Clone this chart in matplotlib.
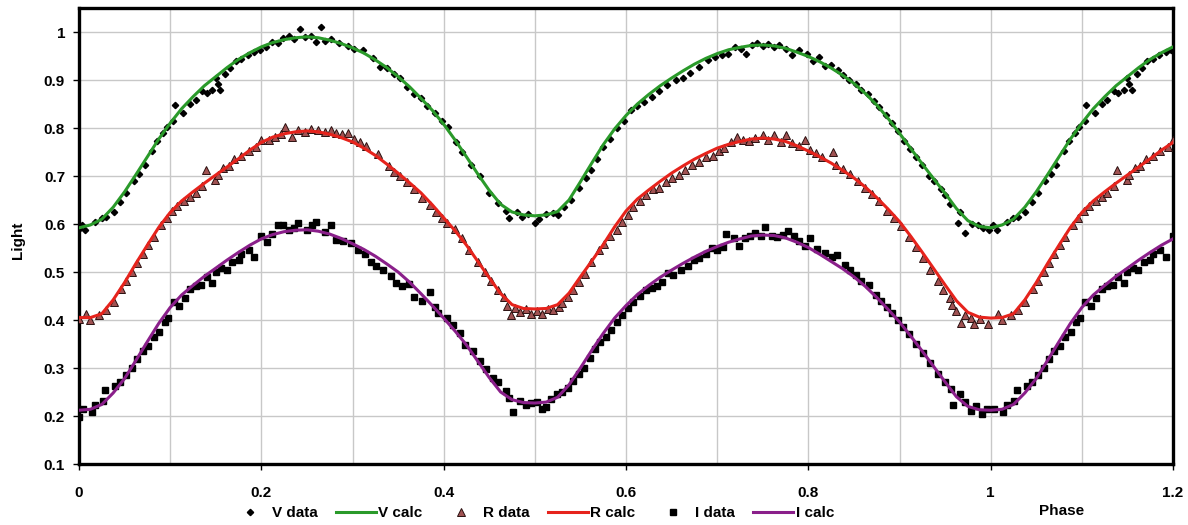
import matplotlib
matplotlib.use('Agg')
import matplotlib.pyplot as plt
from matplotlib.ticker import MultipleLocator
import numpy as np

plt.rcParams['font.family'] = ['Liberation Sans', 'DejaVu Sans']
plt.rcParams['font.weight'] = 'bold'

# model curves, phase 0..1 in steps of 0.0125 (repeated 1.0..1.2 like the original sheet)
CALC_PHASE = [i * 0.0125 for i in range(81)]
V_CALC = [0.592, 0.598, 0.610, 0.635, 0.667, 0.703, 0.740, 0.777, 0.810, 0.840,
          0.865, 0.888, 0.907, 0.926, 0.943, 0.957, 0.969, 0.978, 0.984, 0.988,
          0.990, 0.988, 0.983, 0.976, 0.967, 0.956, 0.942, 0.926, 0.907, 0.886,
          0.862, 0.837, 0.808, 0.775, 0.740, 0.704, 0.670, 0.641, 0.625, 0.619,
          0.617, 0.619, 0.626, 0.650, 0.688, 0.727, 0.765, 0.798, 0.826, 0.850,
          0.870, 0.888, 0.904, 0.919, 0.933, 0.945, 0.955, 0.963, 0.968, 0.972,
          0.973, 0.971, 0.966, 0.958, 0.949, 0.938, 0.925, 0.910, 0.893, 0.872,
          0.848, 0.820, 0.789, 0.757, 0.725, 0.694, 0.664, 0.632, 0.607, 0.595,
          0.592]
R_CALC = [0.405, 0.405, 0.413, 0.442, 0.478, 0.518, 0.556, 0.593, 0.624, 0.648,
          0.667, 0.685, 0.702, 0.719, 0.736, 0.754, 0.770, 0.781, 0.788, 0.792,
          0.794, 0.792, 0.787, 0.780, 0.771, 0.758, 0.743, 0.725, 0.706, 0.686,
          0.665, 0.640, 0.613, 0.586, 0.556, 0.522, 0.488, 0.455, 0.432, 0.424,
          0.423, 0.424, 0.432, 0.456, 0.490, 0.523, 0.557, 0.594, 0.627, 0.652,
          0.671, 0.689, 0.706, 0.721, 0.735, 0.747, 0.758, 0.766, 0.772, 0.777,
          0.779, 0.777, 0.772, 0.763, 0.752, 0.740, 0.727, 0.712, 0.696, 0.677,
          0.655, 0.631, 0.605, 0.574, 0.541, 0.507, 0.473, 0.440, 0.416, 0.406,
          0.404]
I_CALC = [0.212, 0.214, 0.224, 0.248, 0.278, 0.316, 0.355, 0.393, 0.426, 0.452,
          0.472, 0.491, 0.508, 0.525, 0.541, 0.556, 0.569, 0.578, 0.584, 0.587,
          0.588, 0.585, 0.579, 0.570, 0.559, 0.547, 0.533, 0.517, 0.500, 0.479,
          0.455, 0.430, 0.404, 0.377, 0.348, 0.314, 0.280, 0.250, 0.234, 0.228,
          0.227, 0.229, 0.239, 0.265, 0.300, 0.337, 0.372, 0.404, 0.430, 0.453,
          0.472, 0.489, 0.504, 0.518, 0.531, 0.543, 0.553, 0.562, 0.569, 0.575,
          0.577, 0.576, 0.571, 0.562, 0.551, 0.537, 0.522, 0.507, 0.490, 0.470,
          0.447, 0.422, 0.396, 0.366, 0.335, 0.303, 0.271, 0.240, 0.220, 0.213,
          0.212]

# observations (phase, light)
V_PH = [0.000, 0.003, 0.007, 0.018, 0.025, 0.030, 0.038, 0.045, 0.052, 0.060, 0.066, 0.072,
        0.080, 0.086, 0.092, 0.097, 0.103, 0.105, 0.114, 0.122, 0.128, 0.135, 0.140, 0.146,
        0.150, 0.152, 0.155, 0.160, 0.166, 0.172, 0.178, 0.185, 0.192, 0.198, 0.205, 0.212,
        0.218, 0.224, 0.230, 0.236, 0.242, 0.248, 0.254, 0.260, 0.265, 0.270, 0.276, 0.285,
        0.295, 0.302, 0.312, 0.322, 0.330, 0.338, 0.345, 0.352, 0.360, 0.368, 0.375, 0.382,
        0.390, 0.398, 0.405, 0.413, 0.420, 0.430, 0.440, 0.450, 0.460, 0.468, 0.472, 0.480,
        0.486, 0.492, 0.500, 0.505, 0.512, 0.520, 0.525, 0.532, 0.540, 0.548, 0.556, 0.562,
        0.568, 0.575, 0.582, 0.590, 0.598, 0.605, 0.612, 0.620, 0.628, 0.636, 0.645, 0.655,
        0.662, 0.670, 0.680, 0.690, 0.698, 0.705, 0.712, 0.720, 0.726, 0.732, 0.738, 0.744,
        0.750, 0.756, 0.762, 0.768, 0.775, 0.782, 0.790, 0.798, 0.805, 0.812, 0.818, 0.825,
        0.832, 0.838, 0.845, 0.852, 0.858, 0.865, 0.872, 0.878, 0.885, 0.892, 0.898, 0.905,
        0.912, 0.918, 0.925, 0.932, 0.938, 0.945, 0.950, 0.955, 0.964, 0.966, 0.972, 0.980,
        0.986, 0.992, 0.998]
V_OBS = [0.590, 0.597, 0.587, 0.605, 0.612, 0.615, 0.625, 0.645, 0.665, 0.690, 0.705, 0.722,
         0.752, 0.772, 0.790, 0.802, 0.815, 0.848, 0.832, 0.850, 0.858, 0.878, 0.872, 0.880,
         0.905, 0.892, 0.880, 0.912, 0.925, 0.940, 0.943, 0.952, 0.958, 0.962, 0.968, 0.980,
         0.977, 0.987, 0.992, 0.985, 1.006, 0.990, 0.992, 0.980, 1.010, 0.982, 0.985, 0.978,
         0.970, 0.964, 0.962, 0.945, 0.928, 0.924, 0.912, 0.905, 0.885, 0.870, 0.862, 0.845,
         0.832, 0.815, 0.802, 0.770, 0.750, 0.722, 0.700, 0.665, 0.643, 0.628, 0.612, 0.625,
         0.615, 0.620, 0.603, 0.610, 0.620, 0.622, 0.618, 0.636, 0.650, 0.675, 0.695, 0.712,
         0.735, 0.760, 0.778, 0.800, 0.815, 0.837, 0.845, 0.855, 0.865, 0.878, 0.890, 0.900,
         0.905, 0.915, 0.928, 0.942, 0.948, 0.952, 0.955, 0.968, 0.965, 0.955, 0.972, 0.978,
         0.970, 0.975, 0.968, 0.972, 0.965, 0.952, 0.962, 0.955, 0.940, 0.948, 0.930, 0.932,
         0.920, 0.910, 0.900, 0.891, 0.880, 0.870, 0.856, 0.843, 0.828, 0.810, 0.793, 0.773,
         0.756, 0.740, 0.722, 0.700, 0.690, 0.672, 0.660, 0.642, 0.602, 0.625, 0.582, 0.600,
         0.598, 0.592, 0.588]

R_PH = [0.000, 0.008, 0.012, 0.022, 0.030, 0.038, 0.046, 0.052, 0.058, 0.064, 0.070, 0.076,
        0.082, 0.090, 0.096, 0.102, 0.108, 0.115, 0.122, 0.128, 0.135, 0.139, 0.149, 0.152,
        0.158, 0.164, 0.170, 0.178, 0.186, 0.194, 0.200, 0.208, 0.215, 0.222, 0.226, 0.234,
        0.240, 0.248, 0.255, 0.262, 0.270, 0.276, 0.282, 0.288, 0.295, 0.302, 0.308, 0.315,
        0.328, 0.340, 0.346, 0.352, 0.360, 0.368, 0.376, 0.385, 0.392, 0.398, 0.404, 0.412,
        0.420, 0.428, 0.438, 0.445, 0.452, 0.460, 0.466, 0.470, 0.474, 0.478, 0.484, 0.490,
        0.496, 0.502, 0.508, 0.514, 0.520, 0.526, 0.530, 0.536, 0.542, 0.548, 0.555, 0.562,
        0.570, 0.576, 0.582, 0.590, 0.596, 0.602, 0.608, 0.615, 0.622, 0.630, 0.636, 0.644,
        0.650, 0.658, 0.665, 0.672, 0.680, 0.688, 0.695, 0.702, 0.708, 0.715, 0.722, 0.728,
        0.735, 0.742, 0.750, 0.756, 0.762, 0.770, 0.776, 0.782, 0.790, 0.796, 0.802, 0.808,
        0.815, 0.827, 0.830, 0.838, 0.846, 0.854, 0.862, 0.870, 0.878, 0.886, 0.894, 0.902,
        0.910, 0.918, 0.926, 0.934, 0.942, 0.948, 0.955, 0.958, 0.962, 0.968, 0.972, 0.978,
        0.982, 0.988, 0.997]
R_OBS = [0.402, 0.412, 0.400, 0.410, 0.420, 0.438, 0.465, 0.482, 0.500, 0.518, 0.538, 0.556,
         0.572, 0.598, 0.612, 0.628, 0.638, 0.648, 0.656, 0.665, 0.680, 0.712, 0.692, 0.703,
         0.716, 0.720, 0.735, 0.742, 0.752, 0.760, 0.775, 0.775, 0.782, 0.788, 0.803, 0.782,
         0.795, 0.792, 0.798, 0.795, 0.792, 0.795, 0.790, 0.788, 0.790, 0.778, 0.770, 0.762,
         0.745, 0.720, 0.708, 0.700, 0.688, 0.672, 0.655, 0.640, 0.625, 0.612, 0.603, 0.590,
         0.570, 0.545, 0.520, 0.500, 0.482, 0.462, 0.448, 0.430, 0.410, 0.425, 0.416, 0.422,
         0.412, 0.418, 0.413, 0.423, 0.420, 0.428, 0.435, 0.448, 0.462, 0.480, 0.495, 0.520,
         0.545, 0.558, 0.575, 0.588, 0.605, 0.619, 0.635, 0.648, 0.660, 0.672, 0.676, 0.688,
         0.695, 0.702, 0.712, 0.722, 0.730, 0.740, 0.742, 0.752, 0.758, 0.770, 0.782, 0.775,
         0.772, 0.780, 0.785, 0.775, 0.785, 0.770, 0.785, 0.768, 0.762, 0.775, 0.755, 0.748,
         0.740, 0.751, 0.722, 0.715, 0.705, 0.690, 0.676, 0.662, 0.648, 0.628, 0.612, 0.595,
         0.572, 0.552, 0.530, 0.505, 0.482, 0.462, 0.445, 0.431, 0.418, 0.394, 0.410, 0.405,
         0.392, 0.402, 0.392]

I_PH = [0.000, 0.004, 0.014, 0.018, 0.026, 0.029, 0.040, 0.045, 0.052, 0.058, 0.064, 0.070,
        0.076, 0.082, 0.088, 0.094, 0.098, 0.104, 0.110, 0.116, 0.122, 0.128, 0.134, 0.140,
        0.146, 0.150, 0.156, 0.162, 0.168, 0.175, 0.178, 0.186, 0.192, 0.200, 0.206, 0.212,
        0.218, 0.224, 0.230, 0.236, 0.240, 0.250, 0.256, 0.260, 0.270, 0.276, 0.282, 0.290,
        0.298, 0.306, 0.314, 0.320, 0.326, 0.334, 0.342, 0.348, 0.354, 0.362, 0.368, 0.376,
        0.385, 0.390, 0.394, 0.404, 0.410, 0.418, 0.423, 0.432, 0.440, 0.446, 0.454, 0.460,
        0.468, 0.472, 0.476, 0.484, 0.490, 0.496, 0.502, 0.508, 0.512, 0.518, 0.524, 0.530,
        0.536, 0.542, 0.548, 0.554, 0.560, 0.566, 0.572, 0.578, 0.584, 0.590, 0.596, 0.602,
        0.608, 0.615, 0.622, 0.628, 0.634, 0.640, 0.646, 0.652, 0.660, 0.668, 0.675, 0.680,
        0.688, 0.694, 0.700, 0.706, 0.710, 0.718, 0.724, 0.730, 0.736, 0.742, 0.748, 0.752,
        0.760, 0.766, 0.772, 0.778, 0.784, 0.790, 0.796, 0.802, 0.810, 0.818, 0.826, 0.831,
        0.840, 0.846, 0.852, 0.858, 0.866, 0.874, 0.880, 0.886, 0.892, 0.898, 0.904, 0.910,
        0.918, 0.926, 0.934, 0.942, 0.950, 0.956, 0.959, 0.966, 0.972, 0.978, 0.984, 0.990,
        0.996]
I_OBS = [0.198, 0.215, 0.209, 0.222, 0.232, 0.254, 0.262, 0.270, 0.285, 0.300, 0.318, 0.335,
         0.345, 0.365, 0.375, 0.395, 0.405, 0.438, 0.430, 0.445, 0.465, 0.470, 0.472, 0.490,
         0.477, 0.500, 0.508, 0.505, 0.520, 0.525, 0.538, 0.545, 0.532, 0.575, 0.562, 0.580,
         0.598, 0.597, 0.588, 0.592, 0.602, 0.588, 0.597, 0.605, 0.583, 0.598, 0.566, 0.565,
         0.560, 0.545, 0.538, 0.520, 0.512, 0.505, 0.492, 0.478, 0.470, 0.475, 0.448, 0.440,
         0.459, 0.428, 0.414, 0.405, 0.390, 0.372, 0.348, 0.335, 0.315, 0.298, 0.280, 0.270,
         0.252, 0.238, 0.209, 0.232, 0.222, 0.228, 0.230, 0.214, 0.218, 0.235, 0.245, 0.250,
         0.258, 0.272, 0.288, 0.300, 0.320, 0.340, 0.355, 0.365, 0.380, 0.395, 0.410, 0.425,
         0.438, 0.450, 0.462, 0.466, 0.470, 0.480, 0.498, 0.494, 0.505, 0.512, 0.525, 0.530,
         0.538, 0.550, 0.545, 0.553, 0.579, 0.570, 0.555, 0.570, 0.575, 0.582, 0.574, 0.594,
         0.575, 0.572, 0.578, 0.585, 0.575, 0.565, 0.555, 0.570, 0.548, 0.540, 0.532, 0.535,
         0.515, 0.505, 0.494, 0.482, 0.472, 0.452, 0.440, 0.428, 0.415, 0.400, 0.385, 0.370,
         0.350, 0.332, 0.310, 0.288, 0.270, 0.256, 0.223, 0.245, 0.230, 0.210, 0.220, 0.205,
         0.215]


def extend(ph, vals, upto=0.2):
    # the sheet repeats phase 0..0.2 after phase 1
    ph2 = list(ph) + [p + 1 for p in ph if 0 < p <= upto + 1e-9]
    v2 = list(vals) + [v for p, v in zip(ph, vals) if 0 < p <= upto + 1e-9]
    return ph2, v2


fig = plt.figure(figsize=(11.88, 5.25), dpi=100)
ax = fig.add_axes([79 / 1188, 1 - 464 / 525, (1173 - 79) / 1188, (464 - 8) / 525])

x, y = extend(V_PH, V_OBS)
ax.plot(x, y, 'D', ms=3.2, color='black', label='V data', zorder=3)
x, y = extend(CALC_PHASE, V_CALC)
ax.plot(x, y, '-', lw=2.2, color='#2a9a2a', label='V calc', zorder=4)
x, y = extend(R_PH, R_OBS)
ax.plot(x, y, '^', ms=5.5, mfc='#a05252', mec='#2a1010', mew=0.7, label='R data', zorder=3)
x, y = extend(CALC_PHASE, R_CALC)
ax.plot(x, y, '-', lw=2.2, color='#e6231c', label='R calc', zorder=4)
x, y = extend(I_PH, I_OBS)
ax.plot(x, y, 's', ms=4.2, color='black', label='I data', zorder=3)
x, y = extend(CALC_PHASE, I_CALC)
ax.plot(x, y, '-', lw=2.2, color='#8a1f8a', label='I calc', zorder=4)

ax.set_xlim(0, 1.2)
ax.set_ylim(0.1, 1.05)
ax.xaxis.set_minor_locator(MultipleLocator(0.1))
ax.set_xticks([0, 0.2, 0.4, 0.6, 0.8, 1.0, 1.2])
ax.set_xticklabels(['0', '0.2', '0.4', '0.6', '0.8', '1', '1.2'])
ax.set_yticks([0.1, 0.2, 0.3, 0.4, 0.5, 0.6, 0.7, 0.8, 0.9, 1.0])
ax.set_yticklabels(['0.1', '0.2', '0.3', '0.4', '0.5', '0.6', '0.7', '0.8', '0.9', '1'])
ax.grid(True, which='both', color='#c8c8c8', lw=1.0, zorder=0)
ax.set_axisbelow(True)
ax.tick_params(axis='both', which='major', direction='out', length=4, width=1,
               labelsize=11, pad=6)
ax.tick_params(axis='x', which='minor', length=0)
ax.tick_params(axis='x', pad=12)
for s in ax.spines.values():
    s.set_linewidth(2.4)
    s.set_color('black')

fig.text(18 / 1188, 1 - 240 / 525, 'Light', rotation=90, ha='center', va='center',
         fontsize=11, fontweight='bold')
fig.text(1062 / 1188, 1 - 511 / 525, 'Phase', ha='center', va='center',
         fontsize=11, fontweight='bold')

leg = fig.legend(loc='center', bbox_to_anchor=(532 / 1188, 1 - 513 / 525), ncol=6,
                 frameon=False, fontsize=11, handlelength=2.6, handletextpad=0.15,
                 columnspacing=1.2, borderpad=0)

plt.savefig('out.png', dpi=100)
plt.close()
